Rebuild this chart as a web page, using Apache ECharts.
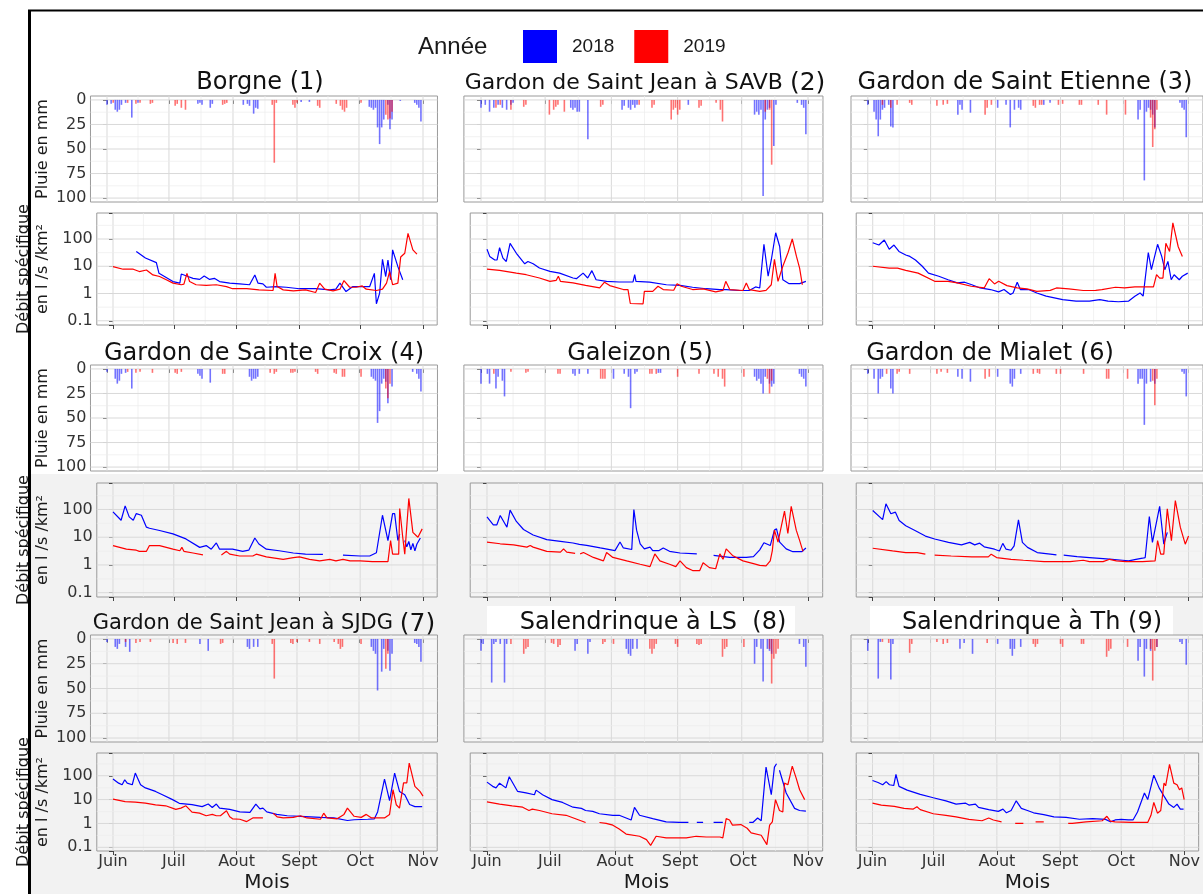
<!DOCTYPE html>
<html><head><meta charset="utf-8">
<script src="https://cdn.jsdelivr.net/npm/echarts@6/dist/echarts.min.js"></script>
<style>html,body{margin:0;padding:0;background:#fff}#c{width:1203px;height:894px}</style>
</head><body><div id="c"></div><script>
// ---------- axis / category data ----------
const monthDays = [0, 30, 61, 92, 122, 153];
const monthLabels = ['Juin', 'Juil', 'Aout', 'Sept', 'Oct', 'Nov'];
const midMonthDays = [15, 45.5, 76.5, 107, 137.5];
const rainTicks = [0, 25, 50, 75, 100];
const rainMinor = [12.5, 37.5, 62.5, 87.5];
const flowMajor = [0.1, 1, 10, 100];
const flowMinor = [0.316, 3.16, 31.6, 316];
const years = ['2018', '2019'];
const panelNames = ['Borgne', 'Gardon de Saint Jean à SAVB', 'Gardon de Saint Etienne',
  'Gardon de Sainte Croix', 'Galeizon', 'Gardon de Mialet',
  'Gardon de Saint Jean à SJDG', 'Salendrinque à LS ', 'Salendrinque à Th'];
const panelNums = ['(1)', '(2)', '(3)', '(4)', '(5)', '(6)', '(7)', '(8)', '(9)'];

// ---------- rain (mm) : [day since 1 June, mm] ----------
const r18_1 = [[0,5],[2,4],[4,10],[5,12],[6,10],[7,5],[9,3],[12,18],[15,3],[44,4],[45,3],[46,5],[50,8],[51,4],[66,5],[68,4],[69,6],[71,14],[72,8],[73,9],[94,2],[98,2],[127,7],[128,8],[129,10],[130,8],[131,28],[132,45],[133,28],[134,20],[136,5],[137,30],[138,20],[142,1],[149,3],[150,5],[151,8],[152,22]];
const r19_1 = [[3,3],[10,3],[14,4],[16,3],[21,4],[22,3],[33,6],[34,4],[36,8],[38,10],[56,5],[57,4],[58,3],[80,5],[81,64],[82,3],[90,5],[91,8],[92,3],[102,6],[103,8],[111,4],[113,6],[114,10],[115,12],[116,8],[123,3],[135,15],[136,20],[137,19],[138,12]];
const r18_2 = [[0,8],[2,5],[4,12],[6,8],[8,5],[10,8],[12,10],[14,5],[15,3],[42,8],[43,10],[44,8],[45,12],[46,12],[50,40],[66,10],[67,6],[69,8],[70,10],[71,5],[72,8],[73,5],[97,5],[128,15],[129,12],[130,15],[131,10],[132,98],[133,20],[134,10],[135,8],[137,47],[138,5],[148,3],[150,5],[151,8],[152,35]];
const r19_2 = [[7,8],[9,5],[14,10],[20,7],[21,5],[32,15],[34,10],[35,7],[36,5],[39,12],[56,7],[57,5],[74,5],[80,8],[81,5],[89,20],[90,10],[91,8],[92,15],[93,10],[102,8],[103,6],[110,3],[112,10],[113,22],[133,12],[135,10],[136,66]];
const r18_3 = [[0,5],[3,12],[4,20],[5,37],[6,20],[7,10],[8,8],[10,5],[11,27],[12,28],[43,15],[44,5],[45,10],[49,13],[62,8],[66,5],[68,28],[70,10],[72,8],[73,10],[84,5],[87,3],[129,20],[130,10],[132,82],[133,12],[134,8],[135,10],[136,15],[137,28],[149,3],[150,8],[151,10],[152,38]];
const r19_3 = [[7,5],[11,8],[14,5],[20,3],[21,5],[33,6],[36,5],[38,4],[56,15],[57,8],[59,5],[79,6],[80,8],[82,5],[83,5],[91,5],[93,4],[101,5],[102,5],[110,5],[114,15],[123,15],[135,18],[136,48],[137,30],[138,10]];
const r18_4 = [[0,3],[4,10],[5,15],[6,12],[7,5],[9,4],[12,20],[44,5],[45,7],[46,10],[50,14],[69,8],[70,12],[71,10],[72,10],[73,8],[128,8],[129,10],[130,12],[131,55],[132,43],[133,15],[134,10],[135,13],[136,35],[138,18],[148,3],[150,5],[151,10],[152,23]];
const r19_4 = [[10,3],[14,4],[16,3],[22,4],[33,4],[34,5],[36,3],[56,5],[57,5],[79,4],[81,5],[82,3],[89,4],[90,4],[91,3],[101,3],[102,5],[110,4],[111,5],[114,8],[115,8],[123,8],[135,20],[136,30],[137,15]];
const r18_5 = [[0,15],[3,5],[4,15],[7,20],[8,8],[10,12],[11,28],[43,5],[44,7],[46,5],[50,5],[62,10],[67,5],[69,8],[70,40],[72,5],[73,3],[83,4],[84,4],[128,8],[129,12],[130,10],[131,15],[132,25],[133,8],[135,15],[136,18],[137,15],[149,5],[150,8],[151,10],[152,18]];
const r19_5 = [[6,5],[14,3],[21,4],[22,3],[36,5],[37,5],[56,10],[57,10],[58,10],[79,5],[80,5],[82,5],[92,8],[102,5],[109,5],[111,8],[113,10],[114,18],[123,8],[134,10],[135,25],[136,12]];
const r18_6 = [[0,5],[3,10],[5,25],[6,10],[7,8],[11,20],[12,25],[43,8],[45,10],[49,13],[62,8],[68,15],[69,18],[70,10],[73,5],[129,15],[130,10],[131,10],[132,57],[133,15],[135,13],[137,15],[150,3],[151,5],[152,28]];
const r19_6 = [[9,5],[14,5],[15,3],[20,5],[33,5],[35,3],[38,4],[56,10],[58,8],[79,5],[81,4],[82,5],[90,5],[92,5],[103,5],[114,10],[115,10],[124,10],[136,12],[137,37],[138,10]];
const r18_7 = [[0,3],[4,8],[5,10],[6,5],[9,8],[11,13],[45,5],[49,12],[68,8],[69,10],[71,8],[73,8],[128,8],[129,12],[130,15],[131,52],[133,33],[134,10],[136,12],[137,32],[138,15],[149,4],[150,5],[151,8],[152,23]];
const r19_7 = [[9,3],[14,4],[16,3],[21,3],[32,4],[34,5],[38,4],[55,5],[56,4],[80,5],[81,40],[89,4],[90,5],[92,3],[98,3],[103,5],[110,3],[112,5],[113,10],[114,8],[123,5],[135,30],[136,15]];
const r18_8 = [[0,12],[1,5],[5,44],[6,5],[7,3],[9,5],[11,44],[12,5],[44,12],[45,5],[50,15],[51,3],[68,10],[69,15],[70,17],[71,10],[73,10],[128,25],[129,8],[131,10],[132,43],[134,10],[135,12],[136,15],[149,5],[151,8],[152,28]];
const r19_8 = [[14,5],[20,15],[21,10],[22,8],[33,4],[34,5],[36,8],[37,6],[57,5],[58,3],[62,5],[79,10],[80,15],[81,10],[82,5],[91,5],[92,8],[101,5],[102,6],[103,5],[113,18],[114,10],[115,8],[123,8],[135,10],[136,45],[137,20],[138,15],[139,10]];
const r18_9 = [[0,12],[5,40],[6,3],[11,41],[12,5],[44,10],[46,4],[50,15],[62,5],[68,10],[69,17],[70,10],[73,8],[129,22],[130,8],[132,38],[133,10],[135,12],[138,8],[149,3],[150,5],[152,26]];
const r19_9 = [[7,3],[10,4],[20,14],[21,5],[33,3],[36,5],[38,4],[57,4],[79,5],[80,8],[81,5],[92,5],[93,8],[102,5],[103,5],[114,18],[115,12],[116,10],[124,8],[135,10],[136,42],[137,12],[138,8]];

// ---------- specific discharge (l/s/km2) : [day, value], null = gap ----------
const q18_1 = [[11.5,35],[16,20],[21.4,13.6],[22.7,5.5],[29.6,2.75],[33,2.4],[33.7,5.2],[37,4.2],[39.5,3.6],[42.8,3.3],[45,4.4],[47.7,3.3],[50,3.6],[52.6,2.75],[57.6,2.4],[62.5,2.25],[67.4,2.1],[70,4.8],[71.6,2.4],[74,2.25],[75.7,1.7],[80.6,1.8],[85.5,1.7],[92,1.5],[100,1.5],[107,1.36],[110,1.44],[112,2.4],[115,1.18],[118.4,1.8],[123,1.8],[126.7,1.8],[129,5.5],[130,0.42],[131.6,1.03],[133,18],[134.6,4.2],[135.7,17],[137,3.2],[138,40],[140.6,9.7],[143,3.2]];
const q19_1 = [[0,9.7],[5,7.8],[10,7.8],[13,6.4],[16.5,7.3],[19.7,4.8],[23,4.2],[26.3,3.2],[29.6,2.4],[33.7,2.1],[35,2.2],[36.5,5.5],[37.8,2.75],[41,2.1],[46,2.0],[51,2.1],[56,1.8],[59,1.5],[66,1.5],[72,1.36],[79,1.29],[80,5.5],[81,1.8],[84,1.36],[89,1.25],[95,1.36],[100,1.09],[102,2.4],[104.5,1.44],[108.6,1.25],[112,1.44],[114,3.0],[116.8,1.7],[120,1.7],[123,1.9],[125,1.44],[130,1.29],[133,1.44],[135,2.4],[136.5,6.4],[138,2.1],[140.6,2.4],[142,22],[144,30],[145.6,160],[148,40],[150,28]];
const q18_2 = [[0,42],[1.3,23],[3.7,17],[4.8,17],[6,48],[7.6,20],[9.2,15],[11,69],[14,30],[18,12.3],[19.5,15],[22,12.3],[25,8.6],[30,6.5],[34.6,5.6],[41,3.7],[42.6,3.5],[45.8,5.6],[48,3.7],[50,6.9],[52,3.2],[57,2.8],[63,2.65],[69.6,2.65],[70.4,4.9],[71,2.8],[77.5,2.6],[85.5,2.1],[92,2.0],[98,1.7],[104.5,1.5],[111,1.4],[114,1.4],[120.5,1.29],[125,1.29],[128,1.75],[130,1.6],[132,64],[134,4.3],[135.5,17],[137.6,170],[139.5,53],[141,3.2],[144,2.3],[149,2.3],[152,2.8]];
const q19_2 = [[0,7.9],[6,7.1],[14,5.6],[18.7,4.9],[25,3.7],[30,2.8],[33,3.05],[34,4.3],[35,2.8],[41,2.45],[47,2.0],[53.7,1.6],[56,2.6],[58.5,1.95],[65,1.4],[67.2,1.4],[68.3,0.43],[74.4,0.42],[75,1.2],[79,1.2],[81.5,1.85],[84,1.4],[89,1.32],[90.6,2.3],[92.6,1.85],[98,1.4],[103,1.48],[109,1.15],[112.5,1.3],[113.8,2.8],[115.7,1.4],[122,1.29],[123.6,2.45],[125,1.4],[130,1.2],[133,1.3],[135.5,2.1],[137,18],[138.7,2.8],[141,10],[143.5,32],[145.5,100],[147.5,23],[149,8.6],[150.3,2.1]];
const q18_3 = [[0,73],[3,60],[5.6,92],[8,42],[10.3,60],[12.7,35],[16,26],[18,23],[20.7,17],[24,10],[27,5.6],[32,4.3],[36.5,3.2],[41,2.45],[44.5,2.6],[48,2.1],[52,1.6],[57,1.4],[61,1.15],[63.6,1.4],[66.7,0.92],[68,1.05],[70,2.6],[71.5,1.4],[75.5,1.4],[79.5,1.05],[84,0.8],[92,0.6],[98.5,0.53],[105,0.53],[110,0.6],[114,0.53],[119,0.5],[124,0.53],[127,0.8],[129.5,1.05],[131,0.8],[133.5,32],[135,7.5],[138,64],[140,23],[141.5,7.5],[143,15],[144.6,3.2],[146,4.9],[148.5,3.2],[150,4.3],[152.6,5.6]];
const q19_3 = [[0,10],[8,8.6],[12,8.6],[16,7.1],[22,5.6],[30,2.8],[36.5,2.8],[41,2.45],[47.7,1.85],[54,1.6],[56.4,3.5],[59,2.25],[61,2.8],[65,1.95],[70,1.6],[74.7,1.48],[79.5,1.2],[86,1.3],[89,1.6],[95,1.48],[102,1.29],[108,1.3],[111,1.4],[117.6,1.7],[122,1.6],[127,1.75],[136,1.75],[137.5,4.9],[139,3.7],[140.6,3.7],[142,70],[143.8,35],[145.4,390],[148,52],[150,23]];
const q18_4 = [[0,82],[4,41],[6,135],[8,54],[10,41],[11.5,71],[14,62],[16.5,23],[18,21],[23,17.5],[29.6,13.2],[36,8.7],[42.8,4.3],[46,5.0],[48.5,3.7],[51,6.2],[52.6,3.7],[59,3.7],[64,3.1],[67,3.4],[70,9.4],[72,5.7],[75.7,3.7],[82,3.25],[89,2.7],[95,2.45],[103.6,2.4],[108,null],[113.5,2.25],[122,2.1],[126.7,2.1],[130,2.75],[133,62],[135.7,7.6],[138,71],[139,71],[140.6,7.6],[141.5,13],[142.5,null],[144,7.6],[145,4.5],[146,7],[147,3.5],[148,6],[149,3.2],[150,5.7],[151.7,9.4]];
const q19_4 = [[0,5],[6.6,3.7],[11.5,3.4],[13,3.1],[16.5,3.1],[18,5],[23,5],[29.6,3.7],[33,3.25],[34,4.3],[35,3.1],[39.5,2.7],[44.4,2.3],[48,null],[53.5,2.3],[56,3.1],[57.6,2.45],[62.5,2.1],[69,2.1],[70.7,2.45],[75.7,1.96],[84,1.6],[89,1.85],[92,1.96],[97,1.6],[102,1.4],[107,1.6],[110,1.4],[113.5,1.6],[117,1.4],[122,1.4],[128,1.32],[135.7,1.32],[137,7.6],[138,2.45],[141,2.45],[141.5,108],[143,10],[144,2.45],[146,250],[148,15],[150.5,10],[152.6,20]];
const q18_5 = [[0,54],[3,28],[4.7,28],[6.3,61],[9.5,23],[11,95],[14,37],[17.4,19],[22,12],[28.5,8.2],[35,7.1],[41,6.2],[44,5.5],[47.5,5.1],[54,4.1],[61,3.3],[63.4,6.7],[65,4.1],[69,3.6],[70,100],[71.3,18],[73,5.8],[75,3.8],[77.7,4.4],[79,3.3],[82,3.3],[84,4.1],[87,3.1],[92,2.7],[100,2.5],[104,null],[108,2.2],[115.7,1.87],[123.6,1.87],[127,2.0],[130,3.5],[132,6.3],[135,5.0],[137,18],[138,20],[139.5,6.7],[142.6,3.8],[145.8,3.0],[150,3.0],[152,4.1]];
const q19_5 = [[0,6.7],[6.3,5.8],[12.7,5.3],[19,4.4],[20.6,5.0],[22,4.4],[28.5,3.1],[35,2.9],[36.5,3.8],[38,2.9],[42,2.6],[43,null],[44.4,2.5],[46,2.8],[50.7,1.87],[55.5,1.4],[57,2.8],[60,1.87],[66.6,1.4],[73,1.06],[77.7,0.87],[80,2.5],[82.4,1.4],[87,1.06],[90,0.87],[92,1.4],[95,0.8],[98,0.63],[101.4,0.63],[103,1.2],[106,0.8],[109,0.73],[111,2.5],[112.5,1.6],[114,3.8],[117,2.2],[122,1.4],[127,1.12],[130,0.97],[133,0.92],[135,1.4],[136,3.3],[137,18],[138.7,6.7],[141.8,87],[143.4,13.6],[145,130],[147.4,18],[149,7.7],[150.6,3.1]];
const q18_6 = [[0,92],[4.8,43],[6.4,160],[8.8,70],[11,80],[12.8,40],[16,26],[20.7,17],[25.5,11],[30,8.6],[36.7,6.5],[43,5.3],[47,6.5],[49.4,5.3],[51.8,6.1],[54,4.5],[59,3.7],[61.4,3.2],[63,6.0],[64.6,3.7],[67,3.4],[68.5,4.9],[70.6,42],[72.5,6.5],[75,4.3],[79.7,2.8],[86,2.45],[89,2.3],[90.5,null],[92.5,2.25],[99,2.0],[105,1.85],[111.6,1.7],[116,1.6],[121,1.48],[124,1.4],[127.5,1.6],[130.7,1.75],[132,1.85],[134,56],[135.5,6.5],[136.3,13],[139,130],[141,5.6],[142.7,15]];
const q19_6 = [[0,4],[9.6,3.2],[16,2.8],[21.5,2.8],[25.5,2.45],[27,null],[30,2.25],[38,2.1],[48,1.95],[56,1.95],[57.4,2.45],[60,1.85],[67,1.6],[73,1.48],[83,1.32],[95.6,1.32],[102,1.48],[105,1.32],[111.6,1.32],[114.8,1.6],[118,1.4],[122.7,1.32],[130.7,1.32],[136.8,1.4],[138,7.5],[139.5,2.45],[141,2.45],[142.7,105],[144.7,7.5],[146.6,210],[149,23],[151.4,5.6],[153,11]];
const q18_7 = [[0,73],[2.8,49],[4.5,42],[5.8,68],[7,49],[9.5,42],[11,129],[13.6,42],[16,31],[21,22],[24.4,16],[29.4,10],[32.7,7.0],[39,6.2],[44,5.1],[47,6.5],[49,4.7],[51,6.5],[52.6,4.4],[57.6,3.9],[62.6,3.05],[67.6,2.9],[70.5,6.5],[72.5,4.1],[74,4.4],[75.9,3.05],[80.8,2.4],[86,2.1],[92.5,2.0],[102.4,1.8],[109,1.7],[115.7,1.33],[119,1.43],[125.7,1.5],[129,1.57],[130.6,3.05],[134,73],[136.5,9],[139,129],[141.4,22],[144,16],[146.4,6.2],[149,5.1],[152.6,5.1]];
const q19_7 = [[0,10.5],[6,8.3],[11,7.9],[16,7.1],[21,6.0],[26,5.5],[31,3.9],[33.5,4.4],[36,5.5],[39,3.0],[42.7,2.7],[46,2.1],[49,2.4],[51,2.1],[53,2.1],[56,3.4],[57.6,1.9],[59,1.57],[62.6,1.5],[66,1.2],[69,1.7],[74,1.7],[76,null],[79,2.7],[81,1.9],[84,1.7],[89,1.8],[92.5,2.1],[95.7,1.7],[102.4,1.5],[104,2.7],[105.6,1.7],[110.6,1.57],[114,2.4],[115.7,4.4],[119,2.0],[122.5,1.8],[125,2.4],[127.6,1.7],[134,1.7],[136.5,2.4],[138.2,26],[139.8,6.1],[141.4,4.4],[142.2,4.8],[143.4,50],[145,50],[146.2,340],[149,36],[151.5,22],[153,14]];
const q18_8 = [[0,54],[2.7,36],[4.3,31],[6,49],[9,31],[10.6,91],[14.6,22],[18.6,19],[22.6,16],[23.4,25],[26.5,16],[31,10],[36,7.6],[41,4.8],[45,4.3],[47,3.5],[50.4,3.2],[53.6,2.55],[60,2.2],[63,2.2],[68.7,1.4],[70.3,4.7],[72.7,2.2],[79,1.6],[85.4,1.17],[91.7,1.1],[96,1.1],[97,null],[100,1.1],[103,1.1],[104,null],[108,1.1],[112.4,1.1],[113,null],[125,1.1],[126.7,1.1],[129,1.7],[130.7,1.3],[133,230],[135.5,16],[137,230],[138,320],[138.7,null],[139.4,170],[142.6,19],[146.6,4.3],[149,3.5],[152,3.3]];
const q19_8 = [[0,8.0],[6,6.5],[12,5.5],[17,4.8],[20,3.5],[21.6,4.0],[25,3.5],[31,2.55],[37.7,2.2],[47,1.1],[48,null],[53.6,1.1],[56.8,1.0],[60,0.85],[63,0.59],[66.3,0.36],[72.7,0.29],[76,0.21],[78,0.12],[80.6,0.29],[85.4,0.25],[90,0.25],[95,0.25],[99.7,0.29],[104.5,0.27],[111,0.27],[112.4,0.25],[114,1.6],[115.6,1.4],[117,0.85],[121,0.9],[124,0.63],[125.9,0.4],[130.7,0.32],[133.4,0.13],[134.7,0.85],[136,1.17],[137.5,10],[139.4,3.5],[141,3.0],[141.8,49],[143.4,42],[145.5,255],[147.4,78],[149,26],[151.4,10]];
const q18_9 = [[0,63],[2.7,52],[5,42],[6.7,57],[8.3,42],[10.4,39],[11.5,113],[13,36],[17,25],[23.4,16.5],[29.8,12],[36,8.9],[41,6.5],[45.7,7.1],[47.3,5.9],[50.5,6.5],[52,4.7],[57,3.8],[61.7,3.2],[64,4.0],[65.7,2.8],[68,3.5],[70.5,8.9],[73,4.3],[76,3.5],[79,2.8],[84,2.35],[89,1.9],[95,1.8],[101.5,1.5],[108,1.6],[114.3,1.48],[116.7,1.17],[119,1.4],[122,1.48],[125.5,1.4],[127.8,1.4],[130,3.0],[133.4,19],[135,10],[138,106],[140.6,31],[143,14],[145.4,6.5],[147.8,4.7],[149.4,6.5],[151,4.0],[152.6,4.0]];
const q19_9 = [[0,7.1],[4.3,5.9],[10.7,5.2],[15.5,4.3],[20,4.0],[21.8,5.0],[23.4,3.8],[29.8,2.55],[36,2.2],[41,1.9],[47.3,1.48],[53.7,1.3],[57,1.7],[59.3,1.4],[63.3,1.17],[65,null],[70,1.0],[74,1.0],[76,null],[80,1.17],[84,1.17],[86,null],[96,1.0],[98,1.0],[104.7,1.17],[112.7,1.3],[115,2.0],[116.7,1.25],[119,1.17],[127,1.1],[135,1.1],[136.6,2.2],[138,7.6],[139.8,2.7],[141.4,3.5],[143,49],[143.8,38],[145.7,300],[147.8,49],[149.4,42],[150.6,26],[151.7,31],[152.9,10]];

const rainSets = [[r18_1,r19_1],[r18_2,r19_2],[r18_3,r19_3],[r18_4,r19_4],[r18_5,r19_5],[r18_6,r19_6],[r18_7,r19_7],[r18_8,r19_8],[r18_9,r19_9]];
const flowSets = [[q18_1,q19_1],[q18_2,q19_2],[q18_3,q19_3],[q18_4,q19_4],[q18_5,q19_5],[q18_6,q19_6],[q18_7,q19_7],[q18_8,q19_8],[q18_9,q19_9]];

// ---------- layout (pixels) ----------
const X_MIN = -8, X_MAX = 160;
const colRain = [{juin:107,nov:423},{juin:481,nov:808},{juin:868,nov:1193}];
const colFlow = [{juin:113,nov:423},{juin:487,nov:808},{juin:873,nov:1194}];
const rowRain = [{top:96,h:106,bg:'#ffffff'},{top:365,h:106,bg:'#ffffff'},{top:635,h:107,bg:'#f6f6f6'}];
const rowFlow = [{top:213,h:112,bg:'#ffffff'},{top:483,h:114,bg:'#f4f4f4'},{top:753,h:102,bg:'#f4f4f4'}];
const titlePos = [[260,83],[645,83],[1025,83],[264,354],[640,354],[990,354],[264,624],[653,623],[1032,623]];
const titleSizes = [[24,24],[22,25],[24,24],[24,24],[24,24],[24,24],[21,25],[24,24],[24,24]];
const colors = ['#0000ff', '#ff0000'];
const FONT = 'DejaVu Sans';

const grids = [], xAxes = [], yAxes = [], gridSeries = [], barSeries = [], lineSeries = [];

function gridItems(xMaj, xMin, yMaj, yMin, yRef) {
  const out = [];
  xMaj.forEach(v => out.push([v, yRef, 0]));
  xMin.forEach(v => out.push([v, yRef, 1]));
  yMaj.forEach(v => out.push([0, v, 2]));
  yMin.forEach(v => out.push([0, v, 3]));
  return out;
}
function gridRender(params, api) {
  const cs = params.coordSys;
  const kind = api.value(2);
  const p = api.coord([api.value(0), api.value(1)]);
  const shape = kind < 2
    ? {x1: p[0], y1: cs.y, x2: p[0], y2: cs.y + cs.height}
    : {x1: cs.x, y1: p[1], x2: cs.x + cs.width, y2: p[1]};
  const major = kind % 2 === 0;
  return {type: 'line', shape: shape, silent: true,
    style: {stroke: major ? '#d9d9d9' : '#ececec', lineWidth: major ? 1 : 0.7}};
}

for (let p = 0; p < 9; p++) {
  const row = Math.floor(p / 3), col = p % 3;
  const gR = 2 * p, gF = 2 * p + 1;
  // rain grid
  const rc = colRain[col], rr = rowRain[row];
  const ppdR = (rc.nov - rc.juin) / 153;
  grids.push({left: rc.juin + X_MIN * ppdR, width: (X_MAX - X_MIN) * ppdR, top: rr.top, height: rr.h,
    show: true, borderColor: '#9a9a9a', borderWidth: 1, backgroundColor: rr.bg});
  xAxes.push({gridIndex: gR, type: 'value', min: X_MIN, max: X_MAX,
    axisLine: {show: false}, splitLine: {show: false},
    axisTick: {show: true, customValues: monthDays, length: 4, lineStyle: {color: '#444'}},
    axisLabel: {show: false}});
  yAxes.push({gridIndex: gR, type: 'value', inverse: true, min: -4, max: 104,
    axisLine: {show: false}, splitLine: {show: false},
    axisTick: {show: true, customValues: rainTicks, length: 4, lineStyle: {color: '#444'}},
    axisLabel: {show: col === 0, customValues: rainTicks, fontSize: 16, fontFamily: FONT, color: '#333', margin: 4},
    name: col === 0 ? 'Pluie en mm' : '', nameLocation: 'middle', nameRotate: 90, nameGap: 40,
    nameTextStyle: {fontSize: 16, fontFamily: FONT, color: '#1a1a1a'}});
  // flow grid
  const fc = colFlow[col], fr = rowFlow[row];
  const ppdF = (fc.nov - fc.juin) / 153;
  grids.push({left: fc.juin + X_MIN * ppdF, width: (X_MAX - X_MIN) * ppdF, top: fr.top, height: fr.h,
    show: true, borderColor: '#9a9a9a', borderWidth: 1, backgroundColor: fr.bg});
  const bottom = row === 2;
  xAxes.push({gridIndex: gF, type: 'value', min: X_MIN, max: X_MAX,
    axisLine: {show: false}, splitLine: {show: false},
    axisTick: {show: true, customValues: monthDays, length: 4, lineStyle: {color: '#444'}},
    axisLabel: {show: bottom, customValues: monthDays, fontSize: 16, fontFamily: FONT, color: '#333', margin: 3,
      formatter: v => monthLabels[monthDays.indexOf(v)] || ''},
    name: bottom ? 'Mois' : '', nameLocation: 'middle', nameGap: 22,
    nameTextStyle: {fontSize: 20, fontFamily: FONT, color: '#1a1a1a'}});
  yAxes.push({gridIndex: gF, type: 'log', logBase: 10, min: 0.07, max: 900,
    axisLine: {show: false}, splitLine: {show: false}, minorSplitLine: {show: false},
    axisTick: {show: true, length: 4, lineStyle: {color: '#444'}},
    axisLabel: {show: col === 0, fontSize: 16, fontFamily: FONT, color: '#333', margin: 4,
      formatter: v => flowMajor.indexOf(v) >= 0 ? String(v) : ''},
    name: col === 0 ? 'Débit spécifique\nen l /s /km²' : '', nameLocation: 'middle', nameRotate: 90, nameGap: 44,
    nameTextStyle: {fontSize: 16, lineHeight: 19, fontFamily: FONT, color: '#1a1a1a'}});

  gridSeries.push({type: 'custom', xAxisIndex: gR, yAxisIndex: gR, silent: true, z: 1,
    data: gridItems(monthDays, midMonthDays, rainTicks, rainMinor, 0), renderItem: gridRender});
  gridSeries.push({type: 'custom', xAxisIndex: gF, yAxisIndex: gF, silent: true, z: 1,
    data: gridItems(monthDays, midMonthDays, flowMajor, flowMinor, 1), renderItem: gridRender});

  for (let y = 0; y < 2; y++) {
    barSeries.push({type: 'bar', name: years[y], xAxisIndex: gR, yAxisIndex: gR, silent: true, z: 2,
      data: rainSets[p][y], barWidth: 1.6, barGap: '-100%',
      itemStyle: {color: colors[y], opacity: 0.55}});
    lineSeries.push({type: 'line', name: years[y], xAxisIndex: gF, yAxisIndex: gF, silent: true, z: 3,
      data: flowSets[p][y].map(d => [d[0], d[1] === null ? '-' : d[1]]),
      showSymbol: false, symbol: 'none', connectNulls: false,
      lineStyle: {width: 1.2, color: colors[y]}, itemStyle: {color: colors[y]}});
  }
}

const graphics = [
  {type: 'rect', shape: {x: 31, y: 474, width: 1172, height: 420}, style: {fill: '#f2f2f2'}, z: -10, silent: true},
  {type: 'rect', shape: {x: 487, y: 606, width: 308, height: 30}, style: {fill: '#ffffff'}, z: -5, silent: true},
  {type: 'rect', shape: {x: 870, y: 606, width: 303, height: 30}, style: {fill: '#ffffff'}, z: -5, silent: true},
  {type: 'line', shape: {x1: 29.5, y1: 10, x2: 29.5, y2: 894}, style: {stroke: '#000', lineWidth: 3}, z: 100, silent: true},
  {type: 'line', shape: {x1: 28, y1: 10.5, x2: 1203, y2: 10.5}, style: {stroke: '#000', lineWidth: 2}, z: 100, silent: true},
  {type: 'text', x: 418, y: 47, z: 100, silent: true,
    style: {text: 'Année', fontSize: 24, fontFamily: 'Liberation Sans', fill: '#1a1a1a', align: 'left', verticalAlign: 'middle'}}
];
for (let p = 0; p < 9; p++) {
  graphics.push({type: 'text', x: titlePos[p][0], y: titlePos[p][1], z: 100, silent: true,
    style: {text: '{a|' + panelNames[p] + ' }{b|' + panelNums[p] + '}', align: 'center', verticalAlign: 'middle',
      rich: {a: {fontSize: titleSizes[p][0], fontFamily: FONT, fill: '#111'},
             b: {fontSize: titleSizes[p][1], fontFamily: FONT, fill: '#111'}}}});
}

const chart = echarts.init(document.getElementById('c'));
chart.setOption({
  animation: false,
  backgroundColor: '#ffffff',
  legend: {
    data: [{name: '2018', itemStyle: {color: colors[0], opacity: 1}}, {name: '2019', itemStyle: {color: colors[1], opacity: 1}}],
    icon: 'rect', left: 523, top: 30, padding: 0, itemWidth: 34, itemHeight: 33, itemGap: 20, selectedMode: false,
    textStyle: {fontSize: 19, fontFamily: 'Liberation Sans', color: '#1a1a1a', padding: [0, 0, 0, 10]}
  },
  grid: grids,
  xAxis: xAxes,
  yAxis: yAxes,
  series: gridSeries.concat(barSeries, lineSeries),
  graphic: graphics
});
</script></body></html>
